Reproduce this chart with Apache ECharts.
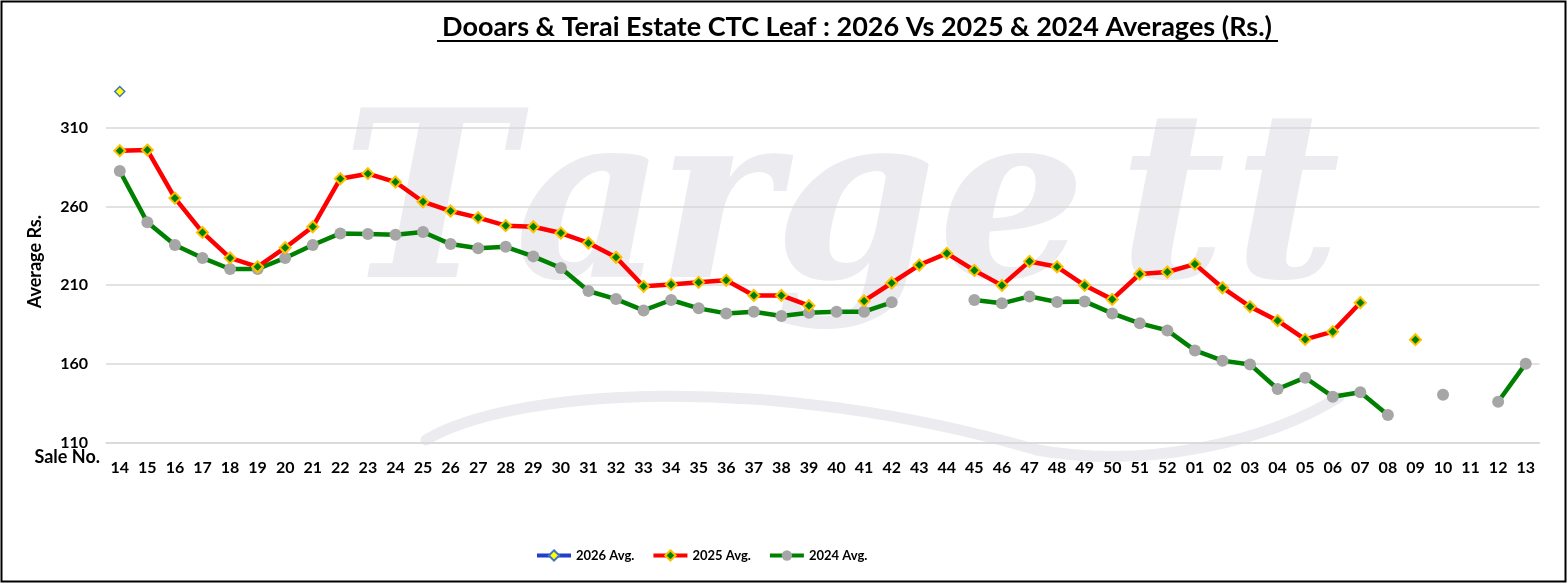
<!DOCTYPE html>
<html>
<head>
<meta charset="utf-8">
<script src="https://cdn.jsdelivr.net/npm/echarts@6/dist/echarts.min.js"></script>
<style>
html,body{margin:0;padding:0;background:#fff;}
#chart{width:1568px;height:584px;}
</style>
</head>
<body>
<div id="chart"></div>
<script>
const categories = ['14','15','16','17','18','19','20','21','22','23','24','25','26','27','28','29','30','31','32','33','34','35','36','37','38','39','40','41','42','43','44','45','46','47','48','49','50','51','52','01','02','03','04','05','06','07','08','09','10','11','12','13'];

const avg2026 = [333,null,null,null,null,null,null,null,null,null,null,null,null,null,null,null,null,null,null,null,null,null,null,null,null,null,null,null,null,null,null,null,null,null,null,null,null,null,null,null,null,null,null,null,null,null,null,null,null,null,null,null];

const avg2025 = [295.4,295.8,265.3,243.5,227.3,221.7,233.8,247.1,277.6,280.8,275.5,263,257.1,252.9,247.8,247.1,243.1,236.8,227.7,209.3,210.5,211.8,213.1,203.5,203.5,197,null,200,211.4,222.8,230.2,219.4,209.9,225.1,221.7,209.9,201,217.1,218.4,223.4,208.4,196.4,187.5,175.6,180.5,198.9,null,175.4,null,null,null,null];

const avg2024 = [282.5,249.9,235.5,227.3,220.3,220.3,227.3,235.5,242.9,242.5,242.1,243.8,236.1,233.4,234.4,228.3,220.9,206.3,201.2,194,200.6,195.3,192.1,193.2,190.4,192.5,193.2,193.2,199.1,null,null,200.6,198.5,202.9,199.3,199.7,192.1,185.8,181.3,168.6,162.1,159.7,144.1,151.3,139.2,142,127.6,null,140.5,null,136,160.2];

const seriesNames = ['2026 Avg.','2025 Avg.','2024 Avg.'];
const titleText = 'Dooars & Terai Estate CTC Leaf : 2026 Vs 2025 & 2024 Averages (Rs.)';
const yTicks = {min:110, max:340, interval:50};

const FONT = 'Lato';
const wmColor = '#ebebf0';
const wmFont = 'bold italic 232px "DejaVu Serif"';
const wmLetters = [['T',428],['a',590],['r',718],['g',855],['e',1012],['t',1172],['t',1287]];

const chart = echarts.init(document.getElementById('chart'), null, {renderer:'canvas'});

const graphics = [];
wmLetters.forEach(function(l){
  graphics.push({type:'text', z:-10, x:l[1], y:333, style:{text:l[0], font:wmFont, fill:wmColor, align:'center', verticalAlign:'bottom'}});
});
graphics.push({type:'bezierCurve', z:-10, shape:{x1:426, y1:440, cpx1:510, cpy1:390, cpx2:760, cpy2:370, x2:1037, y2:450}, style:{fill:null, stroke:wmColor, lineWidth:11, lineCap:'round'}});
graphics.push({type:'bezierCurve', z:-10, shape:{x1:1037, y1:450, cpx1:1150, cpy1:470, cpx2:1270, cpy2:440, x2:1339, y2:397}, style:{fill:null, stroke:wmColor, lineWidth:11, lineCap:'round'}});
graphics.push({type:'text', z:5, x:857, y:41, style:{text:titleText, font:'bold 27px Lato', fill:'#000', align:'center', verticalAlign:'bottom'}});
graphics.push({type:'line', z:5, shape:{x1:437, y1:41, x2:1278, y2:41}, style:{stroke:'#000', lineWidth:2}});
graphics.push({type:'rect', z:20, shape:{x:1.5, y:1.5, width:1564, height:580}, style:{fill:null, stroke:'#000', lineWidth:2}});

chart.setOption({
  animation:false,
  backgroundColor:'#fff',
  graphic: graphics,
  grid:{left:106, right:28.5, top:80.45, bottom:141.3, containLabel:false},
  legend:{
    data:seriesNames, left:530, top:544, itemWidth:34, itemHeight:13, itemGap:17,
    lineStyle:{width:4},
    textStyle:{fontFamily:FONT, fontWeight:'bold', fontSize:13, color:'#000'}
  },
  xAxis:{
    type:'category', data:categories, boundaryGap:true,
    name:'Sale No.', nameLocation:'start', nameGap:6, nameMoveOverlap:false,
    nameTextStyle:{fontFamily:FONT, fontWeight:'bold', fontSize:18, color:'#000', align:'right', verticalAlign:'top', padding:[5,0,0,0]},
    axisLine:{show:true, lineStyle:{color:'#d9d9d9', width:1.5}},
    axisTick:{show:false},
    axisLabel:{fontFamily:FONT, fontWeight:'bold', fontSize:16, color:'#000', margin:17, interval:0}
  },
  yAxis:{
    type:'value', min:yTicks.min, max:yTicks.max, interval:yTicks.interval,
    name:'Average Rs.', nameLocation:'middle', nameGap:62, nameRotate:90, nameMoveOverlap:false,
    nameTextStyle:{fontFamily:FONT, fontWeight:'bold', fontSize:18, color:'#000'},
    axisLine:{show:false}, axisTick:{show:false},
    axisLabel:{fontFamily:FONT, fontWeight:'bold', fontSize:16, color:'#000', margin:18, showMaxLabel:false},
    splitLine:{show:true, showMaxLine:false, lineStyle:{color:'#d9d9d9', width:1.5}}
  },
  series:[
    {name:seriesNames[0], type:'line', data:avg2026, connectNulls:false, symbol:'diamond', symbolSize:10, showSymbol:true,
      lineStyle:{color:'#1f3fcc', width:4}, itemStyle:{color:'#ffff00', borderColor:'#4472c4', borderWidth:1.5}, z:4},
    {name:seriesNames[1], type:'line', data:avg2025, connectNulls:false, symbol:'diamond', symbolSize:11, showSymbol:true,
      lineStyle:{color:'#ff0000', width:4.5}, itemStyle:{color:'#008000', borderColor:'#ffc000', borderWidth:2}, z:3},
    {name:seriesNames[2], type:'line', data:avg2024, connectNulls:false, symbol:'circle', symbolSize:12, showSymbol:true,
      lineStyle:{color:'#008000', width:4.5}, itemStyle:{color:'#a6a6a6', borderColor:'#a6a6a6', borderWidth:0}, z:2}
  ]
});
</script>
</body>
</html>
